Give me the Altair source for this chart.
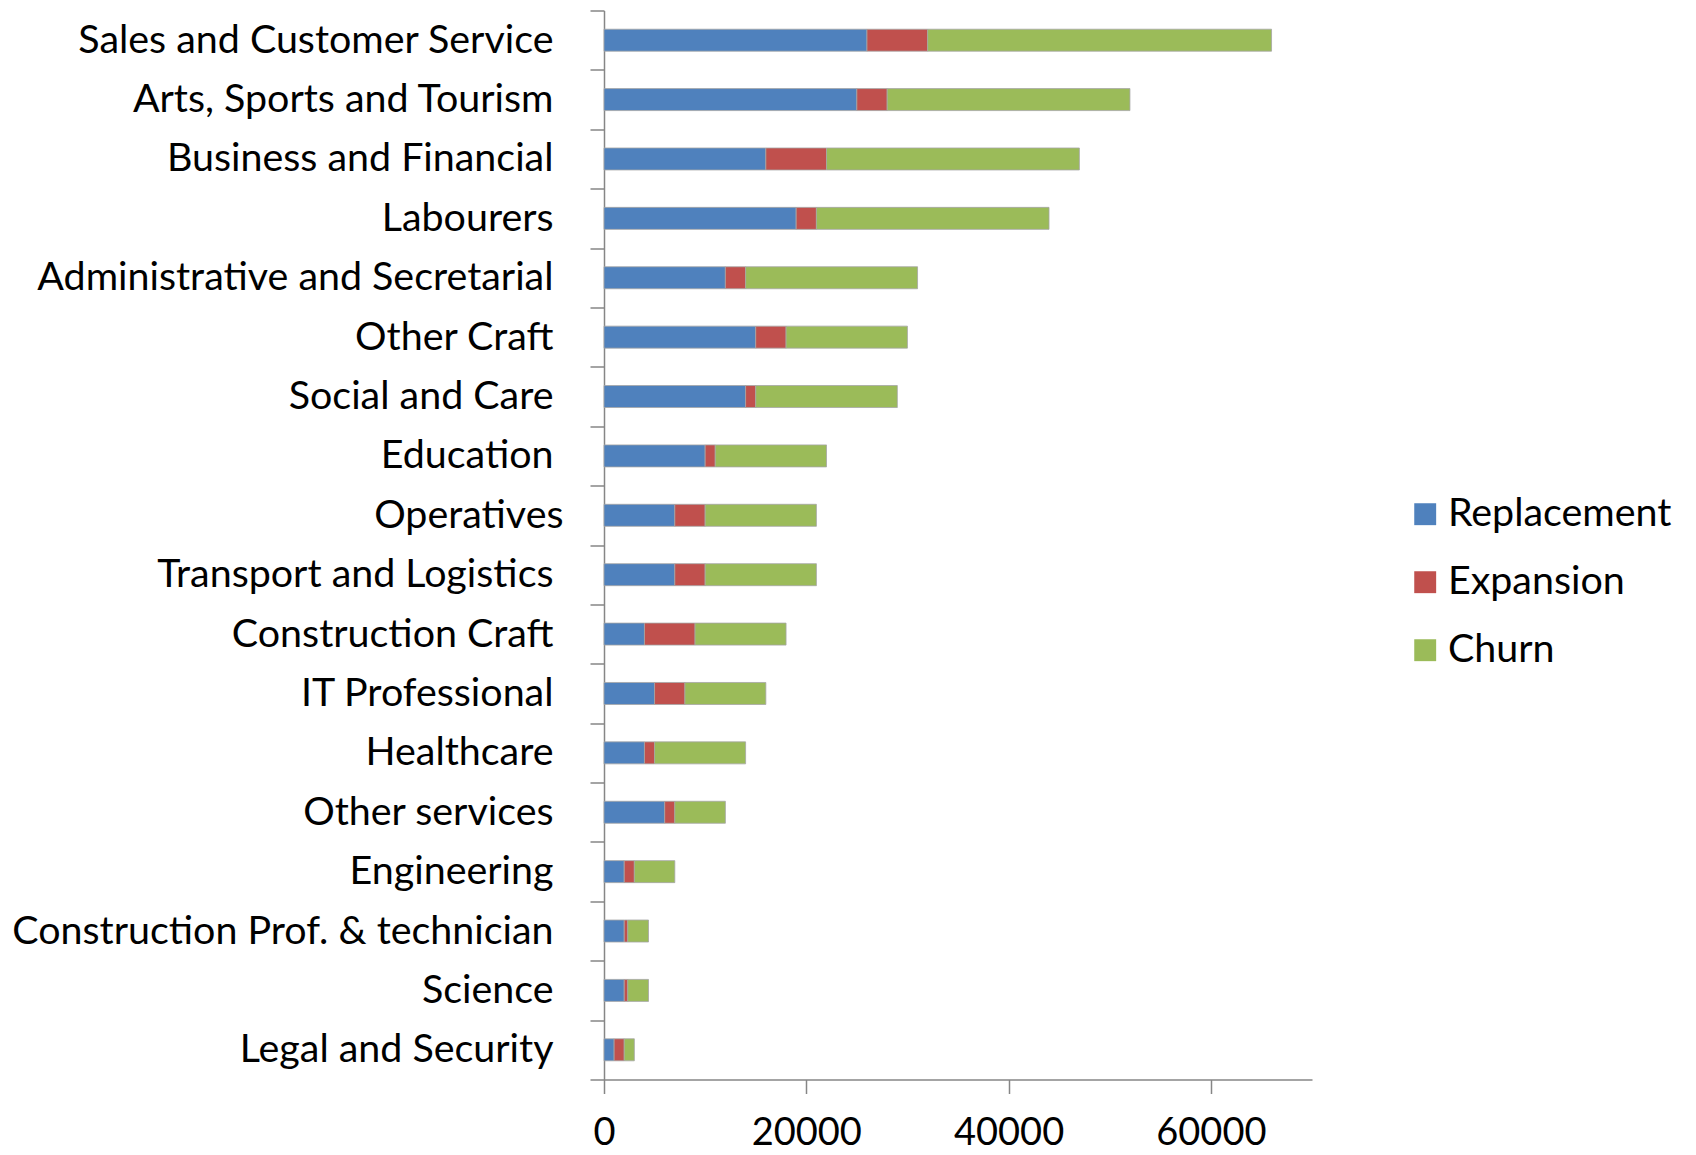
import altair as alt
import pandas as pd

categories = [
    "Sales and Customer Service",
    "Arts, Sports and Tourism",
    "Business and Financial",
    "Labourers",
    "Administrative and Secretarial",
    "Other Craft",
    "Social and Care",
    "Education",
    "Operatives",
    "Transport and Logistics",
    "Construction Craft",
    "IT Professional",
    "Healthcare",
    "Other services",
    "Engineering",
    "Construction Prof. & technician",
    "Science",
    "Legal and Security",
]
replacement = [26000, 25000, 16000, 19000, 12000, 15000, 14000, 10000, 7000, 7000,
               4000, 5000, 4000, 6000, 2000, 2000, 2000, 1000]
expansion = [6000, 3000, 6000, 2000, 2000, 3000, 1000, 1000, 3000, 3000,
             5000, 3000, 1000, 1000, 1000, 350, 350, 1000]
churn = [34000, 24000, 25000, 23000, 17000, 12000, 14000, 11000, 11000, 11000,
         9000, 8000, 9000, 5000, 4000, 2050, 2050, 1000]

series = ["Replacement", "Expansion", "Churn"]
colors = ["#4F81BD", "#C0504D", "#9BBB59"]

rows = []
for i, c in enumerate(categories):
    for k, (name, vals) in enumerate(zip(series, [replacement, expansion, churn])):
        rows.append({"category": c, "series": name, "value": vals[i], "order": k})
df = pd.DataFrame(rows)

FONT = "Lato"

chart = alt.Chart(df).mark_bar(size=22, stroke="#a6a6a6", strokeWidth=0.8).encode(
    y=alt.Y(
        "category:N",
        sort=categories,
        scale=alt.Scale(paddingInner=0, paddingOuter=0),
        axis=alt.Axis(
            title=None,
            tickBand="extent",
            tickSize=14,
            labelPadding={"condition": {"test": "datum.value === 'Operatives'", "value": 27},
                          "value": 37},
            labelFontSize=39.4,
            labelFont=FONT,
            labelColor="#000000",
            domainColor="#868686",
            tickColor="#868686",
            domainWidth=1.5,
            tickWidth=1.5,
            labelLimit=1000,
        ),
    ),
    x=alt.X(
        "value:Q",
        stack="zero",
        scale=alt.Scale(domain=[0, 70000], nice=False),
        axis=alt.Axis(
            title=None,
            values=[0, 20000, 40000, 60000],
            format="d",
            grid=False,
            tickSize=14,
            labelPadding=21,
            labelFlush=False,
            labelFontSize=38,
            labelFont=FONT,
            labelColor="#000000",
            domainColor="#868686",
            tickColor="#868686",
            domainWidth=1.5,
            tickWidth=1.5,
        ),
    ),
    color=alt.Color(
        "series:N",
        scale=alt.Scale(domain=series, range=colors),
        legend=alt.Legend(
            title=None,
            orient="none",
            legendX=801.5,
            legendY=484,
            symbolType="square",
            symbolSize=480,
            symbolStrokeWidth=0,
            labelFontSize=39.4,
            labelFont=FONT,
            labelColor="#000000",
            labelLimit=600,
            rowPadding=27,
            labelOffset=3,
        ),
    ),
    order=alt.Order("order:Q"),
).properties(
    width=708,
    height=1069,
    background="white",
    padding={"left": 3, "top": -17.5, "right": 5, "bottom": 0},
).configure_view(strokeWidth=0, stroke=None)

chart.save("out.html", embed_options={"renderer": "svg", "actions": False})
